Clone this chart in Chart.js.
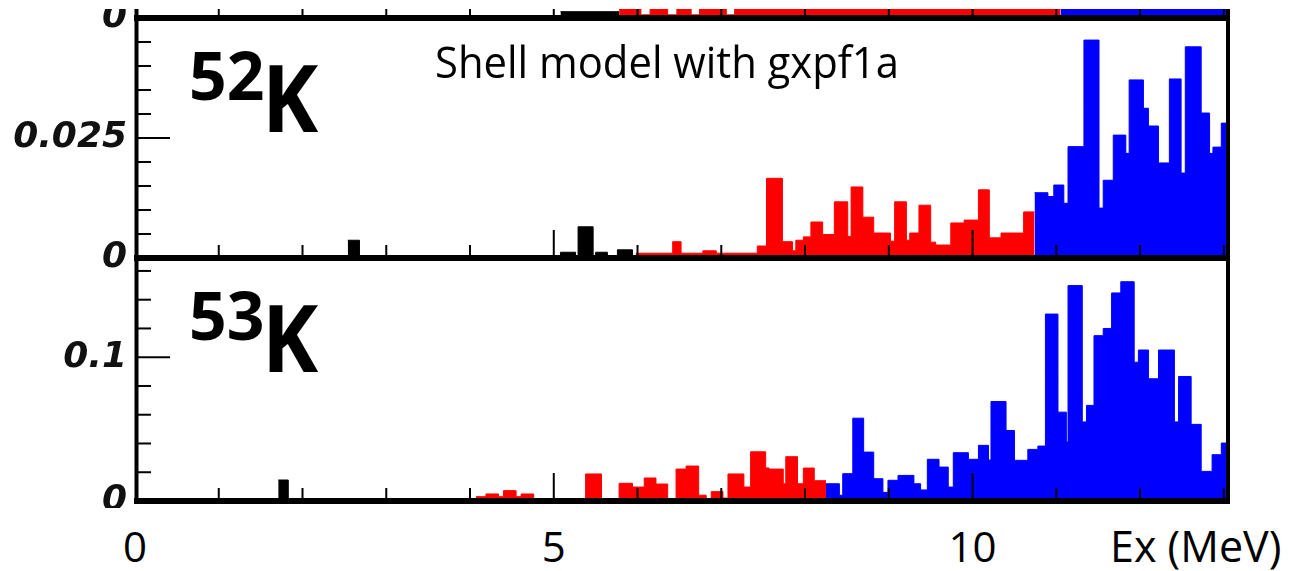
<!DOCTYPE html>
<html>
<head>
<meta charset="utf-8">
<script src="https://cdn.jsdelivr.net/npm/chart.js@4.4.1/dist/chart.umd.min.js"></script>
<style>
  html, body { margin: 0; padding: 0; background: #fff; width: 1291px; height: 571px; overflow: hidden; }
  #wrap { position: relative; width: 1291px; height: 571px; }
  #plot { position: absolute; left: 0; top: 9px; filter: blur(0.6px); }
  .txt { position: absolute; white-space: nowrap; line-height: 1; color: #000;
         font-family: 'Open Sans', sans-serif; transform-origin: 0 0; }
</style>
</head>
<body>
<div id="wrap"><canvas id="plot" width="1291" height="499"></canvas></div>
<script>
// ---- data -------------------------------------------------------------
// excitation-energy axis (MeV)
const energyMin = 0;
const energyMax = 13.05;
const xTickValues = [0, 5, 10];
const xTickLabels = ['0', '5', '10'];
const xTitle = 'Ex (MeV)';

// 52K: histogram bin edges (MeV) and strength per bin
const k52Edges = [2.54, 2.68, 5.08, 5.26, 5.29, 5.47, 5.50, 5.64, 5.76, 5.94,
  5.98, 6.42, 6.52, 6.78, 6.94, 7.43, 7.54, 7.73, 7.85, 7.89,
  7.98, 8.07, 8.21, 8.35, 8.51, 8.55, 8.69, 8.82, 9.02, 9.07,
  9.21, 9.25, 9.36, 9.50, 9.56, 9.74, 9.90, 10.07, 10.20, 10.34,
  10.61, 10.74, 10.90, 10.97, 11.09, 11.14, 11.33, 11.51, 11.56, 11.68,
  11.83, 11.87, 12.04, 12.10, 12.22, 12.35, 12.49, 12.54, 12.73, 12.83,
  12.87, 12.97, 13.05];
const k52Values = [0.0037, 0, 0.0012, 0, 0.0065, 0, 0.0012, 0, 0.0017, 0,
  0.0010, 0.0034, 0.0010, 0.0015, 0.0010, 0.0025, 0.0166, 0.0034, 0.0015, 0.0037,
  0.0044, 0.0075, 0.0049, 0.0117, 0.0045, 0.0148, 0.0085, 0.0052, 0.0035, 0.0117,
  0.0037, 0.0052, 0.0110, 0.0033, 0.0027, 0.0073, 0.0079, 0.0142, 0.0042, 0.0052,
  0.0096, 0.0136, 0.0128, 0.0152, 0.0114, 0.0232, 0.0454, 0.0104, 0.0162, 0.0256,
  0.0218, 0.0371, 0.0312, 0.0275, 0.0198, 0.0373, 0.0177, 0.0440, 0.0302, 0.0218,
  0.0231, 0.0281];
const k52Sn = 5.98;    // gamma | 1n boundary
const k52S2n = 10.74;  // 1n | 2n boundary
const k52Max = 0.05;
const k52TickValues = [0, 0.025];
const k52TickLabels = ['0', '0.025'];

// 53K
const k53Edges = [1.71, 1.83, 4.07, 4.19, 4.34, 4.40, 4.55, 4.61, 4.76, 5.38,
  5.57, 5.78, 5.94, 6.08, 6.22, 6.36, 6.46, 6.58, 6.73, 6.82,
  6.88, 7.02, 7.08, 7.27, 7.35, 7.53, 7.57, 7.74, 7.77, 7.91,
  7.98, 8.11, 8.25, 8.41, 8.45, 8.57, 8.70, 8.82, 8.93, 8.99,
  9.11, 9.30, 9.38, 9.46, 9.60, 9.71, 9.77, 9.95, 10.07, 10.19,
  10.22, 10.40, 10.50, 10.66, 10.78, 10.87, 11.02, 11.12, 11.14, 11.31,
  11.36, 11.45, 11.56, 11.66, 11.77, 11.93, 11.98, 12.10, 12.22, 12.41,
  12.46, 12.61, 12.73, 12.86, 12.97, 13.05];
const k53Values = [0.0146, 0, 0.003, 0.0049, 0.003, 0.0072, 0.003, 0.0049, 0, 0.0188,
  0, 0.0123, 0.0097, 0.016, 0.0118, 0.001, 0.0222, 0.0243, 0.004, 0,
  0.0065, 0.002, 0.0188, 0.0097, 0.0342, 0.023, 0.0222, 0.012, 0.0308, 0.012,
  0.0229, 0.0141, 0.012, 0.004, 0.019, 0.0576, 0.034, 0.0155, 0.006, 0.0144,
  0.0178, 0.012, 0.0077, 0.029, 0.0236, 0.0097, 0.0336, 0.029, 0.0387, 0.0285,
  0.0692, 0.049, 0.0283, 0.0359, 0.0382, 0.130, 0.0618, 0.041, 0.1498, 0.055,
  0.0665, 0.115, 0.120, 0.1447, 0.1525, 0.0965, 0.105, 0.085, 0.105, 0.055,
  0.0866, 0.0533, 0.0206, 0.0322, 0.0403];
const k53Sn = 4.07;
const k53S2n = 8.25;
const k53Max = 0.169;
const k53TickValues = [0, 0.1];
const k53TickLabels = ['0', '0.1'];

// lowest slice of the neighbouring panel above (fraction of the visible band)
const upperEdges = [5.08, 5.78, 6.04, 6.15, 6.36, 6.47, 6.64, 6.74, 7.06, 7.16, 11.05, 13.05];
const upperValues = [0.7, 1, 0.35, 1, 0.35, 1, 0.35, 1, 0.35, 1, 1];
const upperSn = 5.78;
const upperS2n = 11.05;
const upperTickValues = [0];
const upperTickLabels = ['0'];

// overlay text
const panelMasses = ['52', '53'];
const panelSymbol = 'K';
const modelNote = 'Shell model with gxpf1a';

// ---- styling ------------------------------------------------------------
const decayColors = { gamma: '#000000', oneN: '#ff0000', twoN: '#0000ff' };
const labelFont = { family: "'DejaVu Sans', sans-serif", size: 36, style: 'italic', weight: 'bold' };

// panels listed top to bottom; height = pixel height of each stacked panel
const panels = [
  { id: 'yUp', edges: upperEdges, values: upperValues, sn: upperSn, s2n: upperS2n, max: 1,
    height: 9, order: 3, ticks: upperTickValues, labels: upperTickLabels, minor: null, major: null },
  { id: 'y52', edges: k52Edges, values: k52Values, sn: k52Sn, s2n: k52S2n, max: k52Max,
    height: 240, order: 2, ticks: k52TickValues, labels: k52TickLabels, minor: 0.005, major: 0.025 },
  { id: 'y53', edges: k53Edges, values: k53Values, sn: k53Sn, s2n: k53S2n, max: k53Max,
    height: 243, order: 1, ticks: k53TickValues, labels: k53TickLabels, minor: 0.02, major: 0.1 }
];

// step points for bins lying inside [lo, hi]
function histPoints(edges, values, lo, hi) {
  const pts = [];
  let last = -1;
  for (let i = 0; i < values.length; i++) {
    if (edges[i] >= lo - 1e-9 && edges[i + 1] <= hi + 1e-9) {
      pts.push({ x: edges[i], y: values[i] });
      last = i;
    }
  }
  if (last >= 0) pts.push({ x: edges[last + 1], y: values[last] });
  return pts;
}

const datasets = [];
panels.forEach(p => {
  const parts = [
    [energyMin, p.sn, decayColors.gamma],
    [p.sn, p.s2n, decayColors.oneN],
    [p.s2n, energyMax, decayColors.twoN]
  ];
  parts.forEach(([lo, hi, col]) => {
    const pts = histPoints(p.edges, p.values, lo, hi);
    if (!pts.length) return;
    datasets.push({
      type: 'line', data: pts, yAxisID: p.id, stepped: 'before', fill: 'origin',
      backgroundColor: col, borderColor: col, borderWidth: 1, pointRadius: 0, tension: 0
    });
  });
});

const axisWidth = 135;
const scales = {
  x: { type: 'linear', min: energyMin, max: energyMax, display: false }
};
[...panels].reverse().forEach(p => {
  scales[p.id] = {
    type: 'linear', position: 'left', stack: 'panels', stackWeight: p.height, weight: p.order,
    min: 0, max: p.max,
    grid: { display: false, drawTicks: false, tickLength: 0 },
    border: { display: false },
    afterFit: s => { s.width = axisWidth; s.paddingTop = 0; s.paddingBottom = 0; },
    afterBuildTicks: s => { s.ticks = p.ticks.map(v => ({ value: v })); },
    ticks: { padding: 8, color: '#111', font: labelFont, autoSkip: false,
             callback: (v, i) => p.labels[i] }
  };
});

// frame lines and inward tick marks of every panel
const framePlugin = {
  id: 'panelFrames',
  afterDatasetsDraw(chart) {
    const ctx = chart.ctx;
    const xs = chart.scales.x;
    const seg = (x1, y1, x2, y2) => { ctx.beginPath(); ctx.moveTo(x1, y1); ctx.lineTo(x2, y2); ctx.stroke(); };
    ctx.save();
    ctx.strokeStyle = '#000';
    panels.forEach(p => {
      const ys = chart.scales[p.id];
      const top = ys.top, bottom = ys.bottom, left = xs.left, right = xs.right;
      ctx.lineWidth = 2;
      for (let e = 1; e <= Math.floor(energyMax); e++) {
        const x = xs.getPixelForValue(e);
        seg(x, bottom, x, bottom - (e % 5 === 0 ? 28 : 13));
      }
      if (p.minor) {
        for (let k = 1; k * p.minor <= p.max + 1e-9; k++) {
          const v = k * p.minor;
          const y = ys.getPixelForValue(v);
          const isMajor = Math.abs(v / p.major - Math.round(v / p.major)) < 1e-6;
          seg(left, y, left + (isMajor ? 35 : 16), y);
        }
      }
      ctx.lineWidth = 6;
      seg(left - 1, bottom, right + 2, bottom);
      ctx.lineWidth = 4;
      seg(left + 1.5, top, left + 1.5, bottom + 2);
      seg(right, top, right, bottom + 2);
    });
    ctx.restore();
  }
};

const chart = new Chart(document.getElementById('plot'), {
  data: { datasets },
  options: {
    responsive: false, animation: false, devicePixelRatio: 1,
    layout: { padding: { left: 0, top: 0, right: 63, bottom: 7 } },
    plugins: { legend: { display: false }, tooltip: { enabled: false } },
    scales
  },
  plugins: [framePlugin]
});

// ---- overlay text -------------------------------------------------------
const wrap = document.getElementById('wrap');
function addText(str, o) {
  const d = document.createElement('div');
  d.className = 'txt';
  d.textContent = str;
  d.style.fontSize = o.size + 'px';
  d.style.fontWeight = o.weight || 400;
  d.style.top = (o.baseline - 0.888 * o.size) + 'px';
  d.style.left = o.left + 'px';
  let tf = '';
  if (o.center) tf += 'translateX(-50%) ';
  if (o.sx) tf += 'scaleX(' + o.sx + ')';
  d.style.transform = tf;
  wrap.appendChild(d);
}

const massBaselines = [100, 340];
panelMasses.forEach((m, i) => {
  addText(m, { size: 66, weight: 700, baseline: massBaselines[i], left: 189 });
  addText(panelSymbol, { size: 94, weight: 700, baseline: massBaselines[i] + 32, left: 262, sx: 0.9 });
});
addText(modelNote, { size: 44, baseline: 78, left: 435, sx: 0.95 });

xTickValues.forEach((v, i) => {
  addText(xTickLabels[i], { size: 42, baseline: 562, left: chart.scales.x.getPixelForValue(v), center: true });
});
addText(xTitle, { size: 43, baseline: 562, left: 1110 });
</script>
</body>
</html>
